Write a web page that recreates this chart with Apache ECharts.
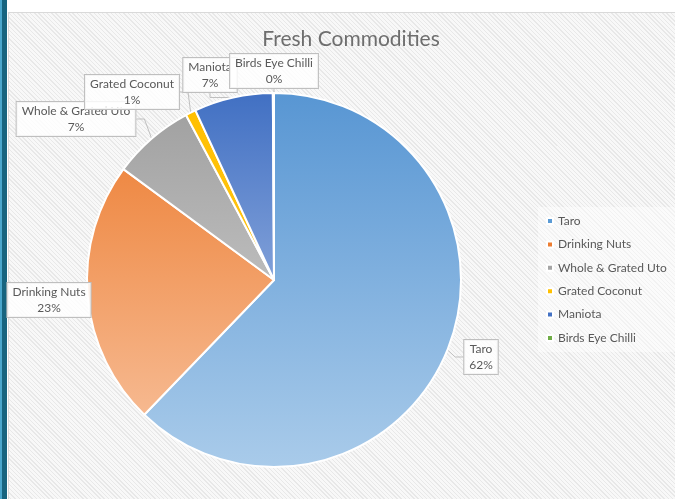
<!DOCTYPE html>
<html>
<head>
<meta charset="utf-8">
<script src="https://cdn.jsdelivr.net/npm/echarts@6/dist/echarts.min.js"></script>
<style>
  html, body { margin: 0; padding: 0; width: 675px; height: 499px; background: #ffffff; overflow: hidden; }
  #barL { position: absolute; left: 0; top: 0; width: 2px; height: 499px; background: #4aa6cc; }
  #barD { position: absolute; left: 2px; top: 0; width: 5px; height: 499px; background: #17647f; }
  #area { position: absolute; left: 8px; top: 12px; width: 680px; height: 500px; border: 1px solid #d9d9d9;
          background: repeating-linear-gradient(45deg, #f8f8f8 0px, #f8f8f8 2px, #e8e8e8 2px, #e8e8e8 3px); }
  #chart { position: absolute; left: 0; top: 0; width: 675px; height: 499px; }
</style>
</head>
<body>
<div id="barL"></div>
<div id="barD"></div>
<div id="area"></div>
<div id="chart"></div>
<script>
// ---- data ----
const categories = ['Taro', 'Drinking Nuts', 'Whole & Grated Uto', 'Grated Coconut', 'Maniota', 'Birds Eye Chilli'];
const values = [62.2, 22.9, 7.1, 0.9, 6.8, 0.1];
const titleText = 'Fresh Commodities';

// ---- styles ----
const solidColors = ['#5b9bd5', '#ed7d31', '#a5a5a5', '#ffc000', '#4472c4', '#70ad47'];
const gradStops = [
  ['#5896d3', '#a9cbea'],
  ['#ec7a2c', '#f8c3a0'],
  ['#9e9e9e', '#dadada'],
  ['#ffbf00', '#ffc928'],
  ['#4170c3', '#c0d0ee'],
  ['#70ad47', '#a9d18e']
];
const labelPos = [[481, 357], [49, 300], [76, 119], [132, 92], [210, 75], [274, 71]];

const cx = 274, cy = 280, R = 187;

const chart = echarts.init(document.getElementById('chart'), null, { renderer: 'canvas' });

const seriesData = categories.map((name, i) => ({
  name: name,
  value: values[i],
  itemStyle: {
    color: {
      type: 'linear', global: true,
      x: 0, y: cy - R, x2: 0, y2: cy + R,
      colorStops: [{ offset: 0, color: gradStops[i][0] }, { offset: 1, color: gradStops[i][1] }]
    }
  },
  labelLine: { show: i !== 1 }
}));

const option = {
  backgroundColor: 'transparent',
  animation: false,
  title: {
    text: titleText,
    left: 346,
    top: 24,
    textAlign: 'center',
    textStyle: { fontFamily: 'Lato', fontWeight: 'normal', fontSize: 21, color: '#6e6e6e' }
  },
  legend: {
    orient: 'vertical',
    left: 538,
    top: 207,
    padding: [7, 40, 7, 8],
    backgroundColor: 'rgba(255,255,255,0.45)',
    icon: 'rect',
    itemWidth: 6,
    itemHeight: 6,
    itemGap: 9.4,
    textStyle: { fontFamily: 'Lato', fontSize: 12, color: '#595959', lineHeight: 14, padding: [0, 0, 0, 0] },
    data: categories.map((name, i) => ({ name: name, itemStyle: { color: solidColors[i] } }))
  },
  series: [{
    type: 'pie',
    center: [cx, cy],
    radius: R,
    startAngle: 90,
    clockwise: true,
    avoidLabelOverlap: false,
    itemStyle: { borderColor: '#ffffff', borderWidth: 2 },
    label: {
      show: true,
      position: 'outside',
      formatter: p => p.name + '\n' + Math.round(p.percent) + '%',
      fontFamily: 'Lato',
      fontSize: 12,
      lineHeight: 16,
      color: '#595959',
      align: 'center',
      backgroundColor: 'rgba(255,255,255,0.82)',
      borderColor: '#bfbfbf',
      borderWidth: 1,
      padding: [1, 5, 1, 5]
    },
    labelLine: { show: true, length: 8, length2: 8, lineStyle: { color: '#bfbfbf', width: 1 } },
    labelLayout: function (params) {
      const p = labelPos[params.dataIndex];
      return { x: p[0], y: p[1], align: 'center', verticalAlign: 'middle' };
    },
    emphasis: { disabled: true },
    data: seriesData
  }]
};
chart.setOption(option);
</script>
</body>
</html>
